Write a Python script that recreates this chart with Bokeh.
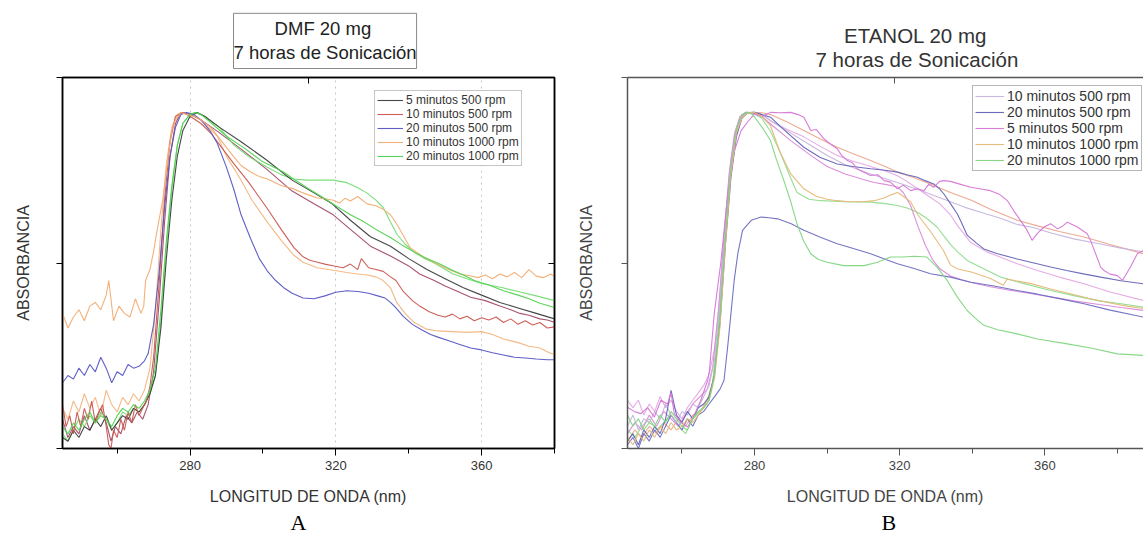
from bokeh.plotting import figure
from bokeh.models import (Range1d, LinearAxis, FixedTicker, Legend, LegendItem, Title,
                          CustomLabelingPolicy)
from bokeh.layouts import row
from bokeh.embed import file_html
from bokeh.resources import INLINE

FONT = "Liberation Sans"
NB = "\u00a0"

# ---------------- Panel A (DMF) data ----------------
a_x_5min500 = [245,246.5,248,249.5,251,252.5,254,255.5,257,258.5,260,261.5,263,264.5,266,267.5,269,270.5,272,273.5,275,276.5,278,280,282,284,288,294,301,308,314,319,324,329.5,335,340,345,350,355,360,365,370,375,380]
a_y_5min500 = [0.03,0.02,0.05,0.03,0.06,0.05,0.08,0.06,0.09,0.05,0.07,0.09,0.08,0.11,0.10,0.12,0.15,0.20,0.33,0.52,0.68,0.80,0.87,0.91,0.92,0.91,0.88,0.84,0.79,0.735,0.70,0.67,0.625,0.58,0.554,0.52,0.49,0.465,0.44,0.42,0.40,0.385,0.37,0.355]

a_x_10min500 = [245,246,247,248,249,250,251,252,253,254,255,256,257,257.7,258.3,259,260,261,262,263,264,265,266,267,268,269,270,271.5,273,274.5,276,278,280,283,286,289,292,296,301,305,308.5,311,313,315,317,319.5,322,324,326,327,329,331,333,335,336.5,338.5,341,343,345.5,348,350,352,354,356,358,360,362,364,366,368,370,372,374,376,378,380]
a_y_10min500 = [0.12,0.06,0.09,0.04,0.10,0.06,0.11,0.08,0.13,0.07,0.10,0.12,0.06,0.01,0.0,0.05,0.03,0.08,0.05,0.10,0.07,0.12,0.09,0.11,0.13,0.17,0.25,0.45,0.68,0.84,0.91,0.92,0.91,0.89,0.86,0.82,0.78,0.73,0.66,0.60,0.55,0.525,0.515,0.51,0.505,0.50,0.495,0.505,0.49,0.52,0.495,0.49,0.485,0.47,0.46,0.43,0.405,0.39,0.375,0.365,0.36,0.368,0.355,0.362,0.35,0.358,0.352,0.36,0.345,0.355,0.34,0.35,0.338,0.345,0.33,0.333]

a_x_20min500 = [245,246.5,248,249.5,251,252.5,254,255.5,257,258.5,260,261.5,263,264.5,266,267.5,268.5,270,271.5,273,274.5,276,277.5,279,281,283,285.5,287.5,290,292,294,296.6,299,301.2,303.5,305.6,308,311,314,317,320,323,326,329,331.5,333.5,335,336.5,338.5,341,343.5,346,348,351,354,357,360,363,366,369,372,375,378,380]
a_y_20min500 = [0.18,0.20,0.19,0.22,0.20,0.23,0.21,0.25,0.22,0.18,0.21,0.20,0.23,0.22,0.225,0.24,0.26,0.34,0.48,0.66,0.80,0.88,0.915,0.92,0.915,0.90,0.87,0.835,0.77,0.71,0.64,0.575,0.52,0.486,0.46,0.441,0.425,0.412,0.41,0.418,0.428,0.432,0.43,0.425,0.418,0.412,0.40,0.385,0.362,0.34,0.325,0.312,0.305,0.295,0.285,0.275,0.27,0.262,0.256,0.25,0.248,0.245,0.243,0.243]

a_x_10min1000 = [245,246.5,248,249.5,251,252.5,254,255.5,257,257.7,259,260.5,262,263.5,265,266.5,267.3,267.8,269,270,271,272.5,274,275,276,277.5,279,281,283,285.6,288,291.9,294,296.6,299,301.2,305,308.4,311,314.9,317,319.3,321,322.5,324,326,328.6,331,333,335,337,340.4,344,347.8,351,354,356.8,359,361,363,365,367,369,371,373,375,377,379,380]
a_y_10min1000 = [0.37,0.33,0.36,0.38,0.35,0.39,0.40,0.38,0.42,0.46,0.35,0.39,0.37,0.36,0.41,0.37,0.39,0.46,0.49,0.54,0.60,0.68,0.80,0.87,0.90,0.92,0.915,0.91,0.90,0.88,0.85,0.80,0.775,0.757,0.745,0.738,0.72,0.711,0.70,0.686,0.684,0.68,0.672,0.685,0.678,0.69,0.67,0.665,0.655,0.64,0.61,0.55,0.525,0.505,0.49,0.478,0.473,0.468,0.475,0.465,0.478,0.47,0.482,0.468,0.49,0.472,0.468,0.478,0.47]

a_x_20min1000 = [245,246.5,248,249.5,251,252.5,254,255.5,257,258.5,260,261.5,263,264.5,266,267.5,269,270.5,272,273.5,275,276.5,278,280,281.5,283,286,290,294.7,300,305.6,308.4,312,316,320,324,327,331,335,338.5,342,345,349,352,355,358,362,366,370,373,376,380]
a_y_20min1000 = [0.06,0.04,0.07,0.05,0.08,0.10,0.07,0.09,0.08,0.06,0.09,0.11,0.10,0.12,0.11,0.13,0.16,0.22,0.38,0.57,0.72,0.83,0.89,0.915,0.92,0.915,0.89,0.855,0.824,0.785,0.757,0.738,0.715,0.69,0.665,0.64,0.625,0.60,0.578,0.555,0.535,0.52,0.503,0.488,0.475,0.46,0.448,0.432,0.42,0.41,0.398,0.386]

# further traces drawn in panel A without legend entries
a_x_orange2 = [245,246.5,248,249.5,251,252.5,254,255.5,257,258.5,260,261.5,263,264.5,266,267.5,269,270.5,272,273.5,275,276.5,278,280,282.9,285,287.5,290,293.8,297,301.2,305,308.4,311,314.9,319.3,323,326,328.6,331,333,335,336.7,339,341.5,344.8,348,352,356,360,363,366,370,373,376,378,380]
a_y_orange2 = [0.11,0.08,0.13,0.10,0.15,0.11,0.14,0.09,0.16,0.12,0.10,0.14,0.12,0.15,0.13,0.16,0.22,0.38,0.60,0.78,0.88,0.915,0.92,0.915,0.90,0.88,0.855,0.80,0.738,0.68,0.62,0.57,0.53,0.51,0.495,0.488,0.482,0.478,0.475,0.47,0.46,0.44,0.40,0.37,0.345,0.327,0.322,0.32,0.318,0.32,0.312,0.30,0.29,0.28,0.275,0.265,0.257]

a_x_green2 = [245,246.5,248,249.5,251,252.5,254,255.5,257,258.5,260,261.5,263,264.5,266,267.5,269,270.5,272,273.5,275,276.5,278,280,281.5,284,288,291.9,296,301.2,305,308.4,312,316,319.3,323,325.9,328.5,331,333,335,336.8,339,341.2,344,347,352.2,356,360,365.8,370,375,380]
a_y_green2 = [0.04,0.02,0.05,0.08,0.06,0.09,0.07,0.10,0.08,0.05,0.07,0.10,0.09,0.11,0.10,0.12,0.15,0.20,0.35,0.55,0.71,0.83,0.89,0.915,0.92,0.91,0.88,0.832,0.80,0.77,0.75,0.738,0.735,0.735,0.735,0.728,0.715,0.70,0.68,0.66,0.62,0.586,0.56,0.54,0.522,0.508,0.478,0.465,0.452,0.44,0.43,0.418,0.405]

a_x_maroon = [245,246.5,248,249.5,251,252.5,254,255.5,257,258.3,259.5,261,262.5,264,265.5,267,268.5,270,271.5,273,274.5,276,277.5,280,283,288,294,301,308,314,319.3,324,329.5,335,340,343,347,350,353,357,361,365,368,370.5,373,376,378,380]
a_y_maroon = [0.08,0.03,0.06,0.04,0.09,0.05,0.08,0.11,0.07,0.02,0.06,0.04,0.09,0.07,0.10,0.08,0.12,0.21,0.40,0.62,0.80,0.89,0.92,0.915,0.90,0.865,0.82,0.765,0.705,0.67,0.64,0.60,0.554,0.527,0.50,0.478,0.46,0.445,0.432,0.414,0.405,0.39,0.38,0.37,0.365,0.355,0.352,0.346]

a_labels = ["5 minutos 500 rpm", "10 minutos 500 rpm", "20 minutos 500 rpm",
            "10 minutos 1000 rpm", "20 minutos 1000 rpm"]

# ---------------- Panel B (ETANOL) data ----------------
b_x_10min500 = [245,246.5,248,249.5,251,252.5,254,255.5,257,258.5,260,261.5,263,264.5,266,267.5,269,270.5,272,273.5,275,276.5,278,280,282,285,290,295,300,305,312,320,326,330,334,338,343,348,352,357,362,368,375,381,387.2]
b_y_10min500 = [0.06,0.09,0.05,0.08,0.07,0.10,0.08,0.12,0.09,0.07,0.10,0.09,0.12,0.11,0.14,0.17,0.24,0.40,0.60,0.76,0.85,0.89,0.905,0.906,0.90,0.88,0.85,0.82,0.79,0.765,0.74,0.715,0.695,0.68,0.665,0.65,0.635,0.62,0.605,0.595,0.58,0.565,0.552,0.54,0.53]

b_x_20min500 = [245,246.5,248,249.5,251,252.5,254,255.5,257,258.5,260,261.5,263,264.5,266,267.5,269,270.5,272,273.5,275,276.5,278,280,282,284.4,288,293.6,298,302.8,307,312,316,319.4,322,324.9,327,329.4,331,332.2,334,335.9,337,338.6,341,343.2,347,352.4,357,361.6,366,371,375.4,381,387.2]
b_y_20min500 = [0.02,0.04,0.01,0.05,0.03,0.06,0.04,0.08,0.157,0.09,0.07,0.10,0.08,0.11,0.12,0.14,0.20,0.34,0.55,0.73,0.84,0.89,0.905,0.906,0.90,0.893,0.86,0.812,0.785,0.767,0.76,0.754,0.75,0.745,0.738,0.731,0.722,0.713,0.70,0.686,0.66,0.632,0.61,0.575,0.555,0.538,0.525,0.511,0.50,0.489,0.48,0.47,0.462,0.452,0.444]

b_x_5min500 = [245,246.8,248.7,250.5,252.4,254.2,256,257,257.9,259.7,261.6,263.4,265.2,267.1,267.6,268.9,270.7,272.6,274.4,276.3,278.1,280,282,284.4,287,290,292,293.6,295.5,297,299.1,301,302.8,304,305.6,307,308.3,310,312,314,315.7,317.5,319.4,321,323,325,326.7,328,329.4,331,332.2,334,336.8,339.6,342,345,347.5,349.7,351.5,353.3,355,356.5,357.9,359.8,361.6,363.5,365,366.2,369,371.7,372.6,375.4,376.3,378,380,381.4,383.6,385.5,387.2]
b_y_5min500 = [0.111,0.10,0.094,0.11,0.085,0.13,0.12,0.15,0.094,0.07,0.058,0.09,0.13,0.184,0.211,0.363,0.50,0.68,0.80,0.857,0.88,0.902,0.895,0.906,0.905,0.906,0.90,0.893,0.857,0.86,0.835,0.82,0.808,0.79,0.776,0.77,0.754,0.745,0.736,0.738,0.722,0.718,0.70,0.71,0.695,0.70,0.695,0.712,0.704,0.72,0.722,0.72,0.712,0.704,0.70,0.695,0.685,0.668,0.64,0.615,0.59,0.561,0.579,0.597,0.606,0.592,0.60,0.61,0.597,0.579,0.561,0.489,0.48,0.47,0.466,0.453,0.489,0.525,0.534]

b_x_10min1000 = [245,246.5,248,249.5,251,252.5,254,255.5,257,258.5,260,261.5,263,264.5,266,267.5,269,270.5,272,273.5,275,276.5,278,280,282,284.4,287,290,293.6,297,300,302.8,306,310,313,315.7,318,319.4,321,323,325,328.5,332,334,336,340,345,348.6,349.6,352,356,361.6,366,372,378,383,387.2]
b_y_10min1000 = [0.03,0.01,0.04,0.02,0.05,0.03,0.06,0.04,0.07,0.05,0.06,0.08,0.07,0.09,0.11,0.13,0.19,0.33,0.55,0.74,0.85,0.89,0.905,0.906,0.895,0.87,0.80,0.74,0.70,0.68,0.672,0.668,0.665,0.665,0.668,0.675,0.685,0.69,0.68,0.665,0.63,0.585,0.535,0.495,0.484,0.475,0.458,0.44,0.457,0.452,0.445,0.43,0.42,0.405,0.392,0.383,0.377]

b_x_20min1000 = [245,246.5,248,249.5,251,252.5,254,255.5,257,258.5,260,261.5,263,264.5,266,267.5,269,270.5,272,273.5,275,276.5,278,279.5,281,282.5,284.4,286,288.1,290,291.7,293.5,295.5,297.5,300,304.6,310.2,313.9,317.5,321,324,327.5,330.3,333.1,335.9,338.6,341,343.2,347,352.4,358,366.2,373,380,387.2]
b_y_20min1000 = [0.09,0.06,0.08,0.05,0.07,0.06,0.09,0.07,0.10,0.08,0.06,0.05,0.08,0.10,0.11,0.13,0.20,0.36,0.58,0.76,0.86,0.90,0.906,0.90,0.88,0.86,0.83,0.78,0.722,0.665,0.606,0.56,0.525,0.51,0.502,0.493,0.493,0.502,0.516,0.516,0.518,0.516,0.489,0.453,0.408,0.372,0.35,0.332,0.32,0.309,0.295,0.282,0.27,0.255,0.251]

# further traces drawn in panel B without legend entries
b_x_blue2 = [245,246.5,248,249.5,251,252.5,254,255.5,257,258.5,260,261.5,263,264.5,266,267.5,269,270.5,271.6,272.6,273.5,274.4,275.4,276.7,279.1,281.8,284,286.4,290.1,293.6,298,302.8,307,312,316,319.4,324,328.5,334,339.6,346,352.4,358,364,370.8,378,387.2]
b_y_blue2 = [0.01,0.03,0.0,0.04,0.02,0.05,0.03,0.06,0.09,0.07,0.05,0.08,0.06,0.09,0.10,0.12,0.14,0.16,0.184,0.274,0.363,0.453,0.525,0.588,0.615,0.624,0.622,0.619,0.606,0.588,0.57,0.552,0.54,0.525,0.51,0.498,0.485,0.471,0.462,0.448,0.438,0.426,0.416,0.404,0.39,0.373,0.354]

b_x_pink2 = [245,246.5,248,249.5,251,252.5,254,255.5,257,258.5,260,261.5,263,264.5,266,267.5,269,270.5,272,273.5,275,276.5,278,280,282,285,289,293.6,298,302.8,307,312,316,319.4,322,325,328,331,334,336,339.6,344,348,352.4,358,364,370.8,378,387.2]
b_y_pink2 = [0.13,0.11,0.13,0.09,0.12,0.10,0.14,0.11,0.13,0.10,0.08,0.11,0.13,0.15,0.17,0.20,0.27,0.42,0.62,0.78,0.86,0.895,0.906,0.905,0.90,0.88,0.86,0.84,0.815,0.79,0.775,0.76,0.748,0.735,0.72,0.70,0.68,0.66,0.63,0.60,0.555,0.53,0.515,0.498,0.48,0.462,0.444,0.422,0.399]

b_x_pink3 = [245,247,249,251,253,255,257,259,261,263,265,267,268.5,270,271.5,273,274.5,276,277.5,279.5,282,285,290,295.5,300,305,310,313,316,318,319.4,321,323,325,327,329,331,334,337,340,345,350,356,362,368,375,381,387.2]
b_y_pink3 = [0.04,0.07,0.05,0.09,0.06,0.10,0.08,0.06,0.09,0.12,0.14,0.16,0.22,0.36,0.56,0.74,0.85,0.895,0.906,0.905,0.895,0.87,0.83,0.79,0.76,0.74,0.725,0.717,0.712,0.708,0.705,0.69,0.655,0.60,0.55,0.51,0.485,0.465,0.455,0.447,0.436,0.427,0.418,0.408,0.398,0.388,0.38,0.372]

b_x_green2 = [245,247,249,251,253,255,257,259,261,263,265,267,268.5,270,271.5,273,274.5,276,277.5,279.5,282,284.4,287,289.5,291.7,295,298.2,305,312,316,319.4,322,324.9,327.5,330.3,332,334,336,338.6,343,347.8,354,361.6,368,375,381,387.2]
b_y_green2 = [0.05,0.03,0.06,0.08,0.05,0.07,0.09,0.06,0.04,0.08,0.10,0.12,0.18,0.32,0.53,0.72,0.84,0.89,0.906,0.905,0.89,0.855,0.80,0.74,0.69,0.672,0.668,0.665,0.664,0.66,0.655,0.648,0.637,0.62,0.597,0.575,0.55,0.53,0.507,0.485,0.462,0.445,0.426,0.412,0.398,0.39,0.381]

b_x_salmon = [245,247,249,251,253,255,257,259,261,263,265,267,268.5,270,271.5,273,274.5,276,277.5,279.5,282,284.4,289,293.6,298,302.8,307,312,316,319.4,324,328.5,334,339.6,345,352.4,358,364,370.8,378,387.2]
b_y_salmon = [0.02,0.05,0.03,0.06,0.04,0.07,0.05,0.08,0.06,0.09,0.10,0.13,0.18,0.30,0.50,0.70,0.83,0.89,0.905,0.906,0.905,0.90,0.88,0.857,0.835,0.812,0.795,0.776,0.76,0.745,0.73,0.713,0.69,0.67,0.645,0.615,0.60,0.585,0.57,0.55,0.525]

b_labels = ["10 minutos 500 rpm", "20 minutos 500 rpm", "5 minutos 500 rpm",
            "10 minutos 1000 rpm", "20 minutos 1000 rpm"]

x_ticks = [280, 320, 360]
x_minor = [260, 300, 340, 380]


def no_labels():
    return CustomLabelingPolicy(code="return []")


def base_axes(p, axis_color, label_color, x_mid, y_top, right_axis, ylabel_standoff):
    xa = p.xaxis[0]
    xa.ticker = FixedTicker(ticks=x_ticks, minor_ticks=x_minor)
    xa.axis_line_color = axis_color
    xa.axis_line_width = 1.5
    xa.major_tick_line_color = axis_color
    xa.minor_tick_line_color = axis_color
    xa.major_tick_out = 7
    xa.major_tick_in = 0
    xa.minor_tick_out = 5
    xa.minor_tick_in = 0
    xa.major_label_text_font = FONT
    xa.major_label_text_font_size = "13px"
    xa.major_label_text_color = label_color
    xa.major_label_standoff = 5
    xa.axis_label = "LONGITUD DE ONDA (nm)"
    xa.axis_label_text_font = FONT
    xa.axis_label_text_font_size = "16px"
    xa.axis_label_text_font_style = "normal"
    xa.axis_label_text_color = label_color
    xa.axis_label_standoff = 15

    ya = p.yaxis[0]
    ya.ticker = FixedTicker(ticks=[0, y_top / 2, y_top])
    ya.axis_line_color = axis_color
    ya.axis_line_width = 1.5
    ya.major_tick_line_color = axis_color
    ya.major_tick_out = 6
    ya.major_tick_in = 0
    ya.minor_tick_out = 0
    ya.minor_tick_in = 0
    ya.major_label_text_font_size = "1px"
    ya.major_label_standoff = 0
    ya.major_label_policy = no_labels()
    ya.axis_label = "ABSORBANCIA"
    ya.axis_label_text_font = FONT
    ya.axis_label_text_font_size = "16px"
    ya.axis_label_text_font_style = "normal"
    ya.axis_label_text_color = label_color
    ya.axis_label_standoff = ylabel_standoff

    top = LinearAxis(ticker=FixedTicker(ticks=[x_mid]), axis_line_color=axis_color,
                     axis_line_width=1.5, major_tick_line_color=axis_color,
                     major_tick_in=6, major_tick_out=0, minor_tick_in=0, minor_tick_out=0,
                     major_label_text_font_size="1px", major_label_standoff=0,
                     major_label_policy=no_labels())
    p.add_layout(top, "above")
    if right_axis:
        right = LinearAxis(ticker=FixedTicker(ticks=[y_top / 2]), axis_line_color=axis_color,
                           axis_line_width=1.5, major_tick_line_color=axis_color,
                           major_tick_in=6, major_tick_out=0, minor_tick_in=0, minor_tick_out=0,
                           major_label_text_font_size="1px", major_label_standoff=0,
                           major_label_policy=no_labels())
        p.add_layout(right, "right")


def make_legend(items, loc, font_size, row_h, glyph_w, border):
    lg = Legend(items=items, location=loc)
    lg.label_text_font = FONT
    lg.label_text_font_size = font_size
    lg.label_text_color = "#333333"
    lg.glyph_width = glyph_w
    lg.glyph_height = row_h
    lg.label_height = row_h
    lg.label_standoff = 3
    lg.spacing = 0
    lg.padding = 2
    lg.margin = 0
    lg.border_line_color = border
    lg.border_line_width = 1
    lg.background_fill_color = "white"
    lg.background_fill_alpha = 1
    return lg


# ---------------- Figure A ----------------
A_YTOP = 1.016
pA = figure(width=575, height=537, x_range=Range1d(245, 380), y_range=Range1d(0, A_YTOP),
            output_backend="svg", toolbar_location=None,
            min_border_left=62, min_border_right=21, min_border_top=74, min_border_bottom=87)
pA.outline_line_color = "black"
pA.outline_line_width = 1.5
pA.background_fill_color = "white"
pA.border_fill_color = "white"
pA.ygrid.visible = False
pA.xgrid.grid_line_color = "#c8c8c8"
pA.xgrid.grid_line_dash = "dotted"
pA.xgrid.grid_line_width = 1
base_axes(pA, "black", "#333333", 312.5, A_YTOP, True, 19)

a_series = [
    (a_x_orange2, a_y_orange2, "#f3b57e", None),
    (a_x_maroon, a_y_maroon, "#a34a68", None),
    (a_x_green2, a_y_green2, "#72dc72", None),
    (a_x_5min500, a_y_5min500, "#3d3d3d", 0),
    (a_x_10min500, a_y_10min500, "#c9574f", 1),
    (a_x_20min500, a_y_20min500, "#5656c4", 2),
    (a_x_10min1000, a_y_10min1000, "#f2ad72", 3),
    (a_x_20min1000, a_y_20min1000, "#4fd24f", 4),
]
a_items = [None] * 5
for xs, ys, col, idx in a_series:
    r = pA.line(xs, ys, line_color=col, line_width=1.1, line_alpha=0.95)
    if idx is not None:
        a_items[idx] = LegendItem(label=a_labels[idx], renderers=[r])
pA.add_layout(make_legend(a_items, (312, 282), "12px", 14, 26, "#8c8c8c"))

pA.add_layout(Title(text=NB * 8 + "DMF 20 mg\n7 horas de Sonicación", align="left",
                    offset=171, standoff=10, text_font=FONT, text_font_size="18.5px",
                    text_font_style="normal", text_color="#222222", text_line_height=1.15,
                    border_line_color="#8a8a8a", border_line_width=1,
                    background_fill_color="white", padding=(0, 5)), "above")
pA.add_layout(Title(text="A", align="left", offset=228, standoff=0,
                    text_font="Liberation Serif", text_font_size="22px",
                    text_font_style="normal", text_color="black"), "below")

# ---------------- Figure B ----------------
pB = figure(width=568, height=537, x_range=Range1d(245, 387.2), y_range=Range1d(0, 1.0),
            output_backend="svg", toolbar_location=None,
            min_border_left=52, min_border_right=0, min_border_top=77, min_border_bottom=89)
pB.outline_line_color = None
pB.background_fill_color = "white"
pB.border_fill_color = "white"
pB.xgrid.visible = False
pB.ygrid.visible = False
base_axes(pB, "#555555", "#444444", 318.6, 1.0, False, 22)

b_series = [
    (b_x_salmon, b_y_salmon, "#eca58c", None),
    (b_x_green2, b_y_green2, "#8fdc8f", None),
    (b_x_pink2, b_y_pink2, "#e4a6e4", None),
    (b_x_pink3, b_y_pink3, "#d98ad9", None),
    (b_x_blue2, b_y_blue2, "#6e6ec2", None),
    (b_x_10min500, b_y_10min500, "#c6b4dc", 0),
    (b_x_20min500, b_y_20min500, "#6464b6", 1),
    (b_x_5min500, b_y_5min500, "#d676d6", 2),
    (b_x_10min1000, b_y_10min1000, "#e6b878", 3),
    (b_x_20min1000, b_y_20min1000, "#7fd67f", 4),
]
b_items = [None] * 5
for xs, ys, col, idx in b_series:
    r = pB.line(xs, ys, line_color=col, line_width=1.1, line_alpha=0.95)
    if idx is not None:
        b_items[idx] = LegendItem(label=b_labels[idx], renderers=[r])
pB.add_layout(make_legend(b_items, (345, 277), "14px", 16, 29, "#6e6e6e"))

pB.add_layout(Title(text=NB * 5 + "ETANOL 20 mg\n7 horas de Sonicación", align="left",
                    offset=188, standoff=5, text_font=FONT, text_font_size="20.5px",
                    text_font_style="normal", text_color="#333333", text_line_height=1.05),
              "above")
pB.add_layout(Title(text="B", align="left", offset=254, standoff=0,
                    text_font="Liberation Serif", text_font_size="22px",
                    text_font_style="normal", text_color="black"), "below")

layout = row(pA, pB, spacing=0)
open("out.html", "w").write(file_html(layout, INLINE))
